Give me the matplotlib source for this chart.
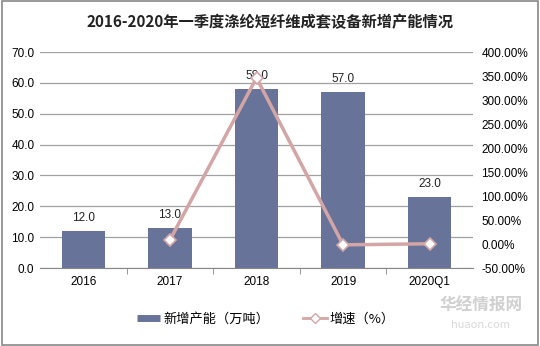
import numpy as np
import matplotlib
matplotlib.use('Agg')
import matplotlib.pyplot as plt
from matplotlib.patches import Rectangle
from matplotlib.lines import Line2D

plt.rcParams['font.family'] = ['Noto Sans CJK SC', 'DejaVu Sans']

years = ['2016', '2017', '2018', '2019', '2020Q1']
capacity = [12.0, 13.0, 58.0, 57.0, 23.0]
growth = [None, 8.33, 346.15, -1.72, 0.5]

bar_color = '#68739A'
line_color = '#D4A5A5'

fig = plt.figure(figsize=(5.4, 3.46), dpi=100)
fig.patches.append(Rectangle((0.003, 0.003), 0.994, 0.994, transform=fig.transFigure,
                             fill=False, edgecolor='#888888', lw=1.2))

ax = fig.add_axes([0.074, 0.2254, 0.802, 0.6243])
x = np.arange(len(years))
ax.bar(x, capacity, width=0.5, color=bar_color, zorder=2)
for xi, v in zip(x, capacity):
    ax.text(xi, v + 2.2, f'{v:.1f}', ha='center', va='bottom', fontsize=8.5,
            family='Liberation Sans', color='#222222', zorder=5)

ax.set_ylim(0, 70)
ax.set_yticks(np.arange(0, 71, 10))
ax.set_yticklabels([f'{v:.1f}' for v in np.arange(0, 71, 10)], family='Liberation Sans', fontsize=8.5)
ax.set_xlim(-0.5, len(years) - 0.5)
ax.set_xticks(x)
ax.set_xticklabels(years, family='Liberation Sans', fontsize=8.5)
ax.tick_params(axis='x', length=0, pad=6)
ax.tick_params(axis='y', length=0, pad=4)
ax.set_xticks(np.arange(0.5, len(years) - 0.5, 1), minor=True)
ax.tick_params(axis='x', which='minor', length=4, direction='out', color='#888888')
ax.grid(axis='y', color='#A0A0A0', lw=0.9, zorder=0)
for s in ['top', 'right', 'left']:
    ax.spines[s].set_visible(False)
ax.spines['bottom'].set_color('#888888')

ax2 = ax.twinx()
gx = [xi for xi, g in zip(x, growth) if g is not None]
gy = [g for g in growth if g is not None]
ax2.plot(gx, gy, color=line_color, lw=2.5, marker='D', markersize=6,
         markerfacecolor='white', markeredgecolor=line_color, markeredgewidth=1.2, zorder=3)
ax2.set_ylim(-50, 400)
ax2.set_yticks(np.arange(-50, 401, 50))
ax2.set_yticklabels([f'{v:.2f}%' for v in np.arange(-50, 401, 50)], family='Liberation Sans', fontsize=8.5)
ax2.tick_params(axis='y', length=0, pad=6)
for s in ['top', 'right', 'left', 'bottom']:
    ax2.spines[s].set_visible(False)

fig.text(0.5, 0.935, '2016-2020年一季度涤纶短纤维成套设备新增产能情况', ha='center', va='center',
         fontsize=11, fontweight='bold', color='#222222')

handles = [Line2D([], [], color=bar_color, lw=5, solid_capstyle='butt'),
           Line2D([], [], color=line_color, lw=2, marker='D', markersize=5,
                  markerfacecolor='white', markeredgecolor=line_color)]
fig.legend(handles, ['新增产能（万吨）', '增速（%）'], loc='center', bbox_to_anchor=(0.492, 0.078),
           ncol=2, frameon=False, fontsize=9.5, handlelength=1.8, handletextpad=0.2,
           columnspacing=2.6)

fig.text(0.89, 0.115, '华经情报网', ha='center', va='center', fontsize=12,
         fontweight='bold', color='#D0D0D0', zorder=0)
fig.text(0.89, 0.06, 'huaon.com', ha='center', va='center', fontsize=8,
         color='#D8D8D8', zorder=0)

fig.savefig('out.png', dpi=100)
